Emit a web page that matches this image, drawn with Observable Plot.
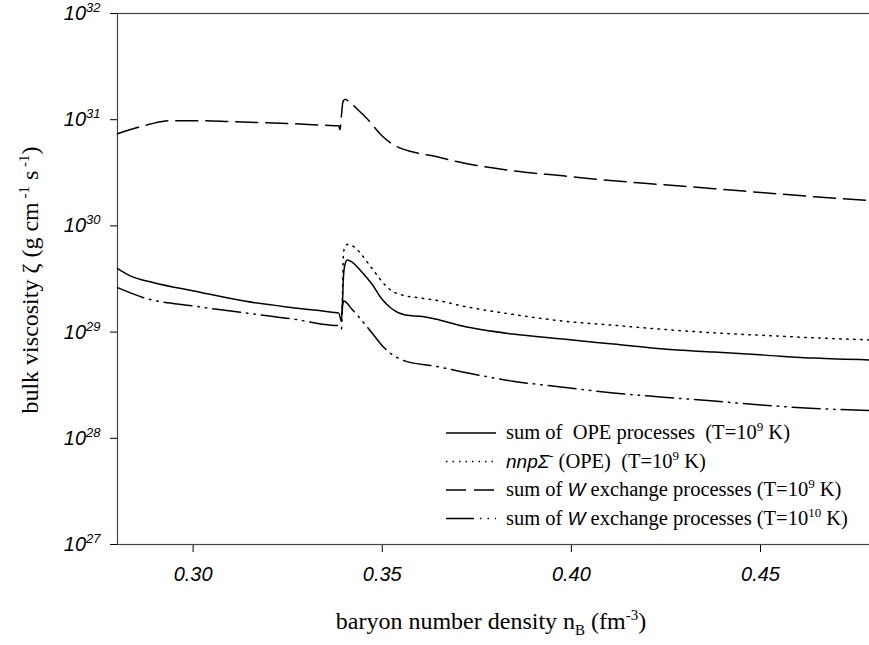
<!DOCTYPE html>
<html><head><meta charset="utf-8">
<script src="https://cdn.jsdelivr.net/npm/d3@7"></script>
<script src="https://cdn.jsdelivr.net/npm/@observablehq/plot@0.6"></script>
<style>
body{margin:0;background:#fff;}
#chart{position:relative;width:869px;height:645px;overflow:hidden;background:#fff;}
</style></head><body><div id="chart"></div>
<script>
// ---- data ----
const xTicks = [0.30, 0.35, 0.40, 0.45];
const yTicks = [1e27, 1e28, 1e29, 1e30, 1e31, 1e32];

// sum of OPE processes (T=1e9 K) - solid
const xOPE = [0.2800,0.2835,0.2896,0.3002,0.3135,0.3268,0.3380,0.3385,0.3392,0.3395,0.3397,0.3401,0.3408,0.3420,0.3446,0.3473,0.3499,0.3526,0.3561,0.3606,0.3640,0.3712,0.3845,0.3978,0.4111,0.4244,0.4377,0.4510,0.4643,0.4800];
const yOPE = [3.96e29,3.37e29,2.92e29,2.44e29,1.96e29,1.69e29,1.52e29,1.51e29,1.27e29,1.96e29,3.16e29,4.29e29,4.78e29,4.57e29,3.68e29,2.82e29,2.05e29,1.65e29,1.45e29,1.40e29,1.33e29,1.14e29,9.58e28,8.59e28,7.71e28,6.92e28,6.48e28,6.07e28,5.69e28,5.45e28];

// nnpΣ- (OPE) (T=1e9 K) - dotted
const xNNP = [0.3392,0.3395,0.3397,0.3401,0.3409,0.3428,0.3446,0.3462,0.3478,0.3494,0.3510,0.3531,0.3553,0.3593,0.3654,0.3712,0.3845,0.3978,0.4111,0.4244,0.4377,0.4510,0.4643,0.4800];
const yNNP = [1.27e29,2.44e29,5.21e29,6.34e29,6.72e29,6.24e29,5.32e29,4.48e29,3.76e29,3.16e29,2.72e29,2.38e29,2.23e29,2.11e29,1.96e29,1.76e29,1.47e29,1.27e29,1.16e29,1.06e29,9.84e28,9.31e28,8.83e28,8.41e28];

// sum of W exchange processes (T=1e9 K) - dashed
const xW9 = [0.2800,0.2861,0.2941,0.3021,0.3101,0.3180,0.3260,0.3348,0.3385,0.3388,0.3392,0.3396,0.3402,0.3412,0.3433,0.3460,0.3499,0.3534,0.3579,0.3632,0.3712,0.3845,0.3978,0.4111,0.4244,0.4377,0.4510,0.4643,0.4800];
const yW9 = [7.38e30,8.59e30,9.80e30,9.80e30,9.58e30,9.37e30,9.17e30,8.87e30,8.77e30,8.05e30,1.09e31,1.48e31,1.56e31,1.48e31,1.27e31,1.02e31,7.06e30,5.69e30,4.99e30,4.57e30,3.93e30,3.30e30,2.96e30,2.66e30,2.44e30,2.24e30,2.05e30,1.88e30,1.72e30];

// sum of W exchange processes (T=1e10 K) - dash-dot-dot
const xW10 = [0.2800,0.2869,0.3002,0.3135,0.3268,0.3366,0.3385,0.3392,0.3395,0.3398,0.3420,0.3438,0.3473,0.3505,0.3521,0.3561,0.3640,0.3712,0.3845,0.3978,0.4111,0.4244,0.4377,0.4510,0.4643,0.4800];
const yW10 = [2.62e29,2.11e29,1.76e29,1.52e29,1.32e29,1.16e29,1.15e29,1.07e29,1.76e29,1.96e29,1.64e29,1.39e29,9.80e28,7.11e28,6.34e28,5.33e28,4.77e28,4.22e28,3.45e28,3.03e28,2.67e28,2.44e28,2.24e28,2.05e28,1.91e28,1.82e28];

const seriesNames = ["OPE", "NNP", "W9", "W10"];
const seriesX = {OPE: xOPE, NNP: xNNP, W9: xW9, W10: xW10};
const seriesY = {OPE: yOPE, NNP: yNNP, W9: yW9, W10: yW10};
const dashes = {OPE: null, NNP: "1.5,5.5", W9: "22,8", W10: "28,6,1.5,6,1.5,6"};

const table = seriesNames.map(name => seriesX[name].map((x, i) => ({series: name, x, y: seriesY[name][i]})));

const plot = Plot.plot({
  width: 869, height: 645,
  marginLeft: 117, marginRight: -4.5, marginTop: 13, marginBottom: 101,
  style: {fontFamily: "'Liberation Sans', Arial, sans-serif", fontSize: "20px", fontStyle: "italic", color: "#000", background: "#fff", overflow: "visible"},
  x: {domain: [0.28, 0.48], ticks: xTicks, tickFormat: d3.format(".2f"), tickSize: 8, tickPadding: 14, label: null},
  y: {type: "log", domain: [1e27, 1e32], ticks: yTicks, tickFormat: d => "10^" + Math.round(Math.log10(d)), tickSize: 7, tickPadding: 10, label: null},
  marks: [
    Plot.frame({stroke: "#444", strokeWidth: 1.2}),
    ...table.map((rows, k) => Plot.line(rows, {x: "x", y: "y", stroke: "#000", strokeWidth: 1.5,
      strokeDasharray: dashes[seriesNames[k]], curve: "monotone-x"}))
  ]
});
document.getElementById("chart").appendChild(plot);

const svg = d3.select(plot);
// superscripts on y tick labels
svg.selectAll("text").each(function() {
  const m = /^10\^(\d+)$/.exec(this.textContent);
  if (m) {
    const el = d3.select(this);
    el.text("");
    el.append("tspan").text("10");
    el.append("tspan").attr("font-size", "13px").style("font-size", "13px").attr("dy", "-8").text(m[1]);
  }
});

const serif = "'Liberation Serif', 'Times New Roman', serif";
const sans = "'Liberation Sans', Arial, sans-serif";

// x axis title
const xt = svg.append("text").attr("x", 491).attr("y", 629).attr("text-anchor", "middle")
  .style("font-family", serif).style("font-style", "normal").style("font-size", "24px").attr("fill", "#000");
xt.append("tspan").text("baryon number density n");
xt.append("tspan").style("font-size", "15px").attr("dy", "6").text("B");
xt.append("tspan").attr("dy", "-6").text("\u00a0(fm");
xt.append("tspan").style("font-size", "15px").attr("dy", "-9").text("-3");
xt.append("tspan").attr("dy", "9").text(")");

// y axis title
const yt = svg.append("text").attr("transform", "translate(38,280) rotate(-90)").attr("text-anchor", "middle")
  .style("font-family", serif).style("font-style", "normal").style("font-size", "24px").attr("fill", "#000");
yt.append("tspan").text("bulk viscosity \u03b6 (g cm");
yt.append("tspan").style("font-size", "15px").attr("dy", "-9").text("\u00a0-1");
yt.append("tspan").attr("dy", "9").text("\u00a0s");
yt.append("tspan").style("font-size", "15px").attr("dy", "-9").text("\u00a0-1");
yt.append("tspan").attr("dy", "9").text(")");

// legend (inside plot area)
const legend = [
  {dash: null, parts: [["s","sum of  OPE processes  (T=10"],["sup","9"],["s"," K)"]]},
  {dash: "1.5,5", parts: [["i","nnp\u03a3"],["sup","-"],["s"," (OPE)  (T=10"],["sup","9"],["s"," K)"]]},
  {dash: "20,8", parts: [["s","sum of "],["i","W"],["s"," exchange processes (T=10"],["sup","9"],["s"," K)"]]},
  {dash: "28,6,1.5,6,1.5,6", parts: [["s","sum of "],["i","W"],["s"," exchange processes (T=10"],["sup","10"],["s"," K)"]]}
];
const lg = svg.append("g").attr("transform", "translate(446,433)");
legend.forEach((row, i) => {
  const y = i * 28.5;
  lg.append("line").attr("x1", 0).attr("x2", 50).attr("y1", y).attr("y2", y)
    .attr("stroke", "#000").attr("stroke-width", 1.5).attr("stroke-dasharray", row.dash);
  const t = lg.append("text").attr("x", 60).attr("y", y + 6).attr("fill", "#000").attr("text-anchor", "start")
    .style("text-anchor", "start").style("font-size", "20.5px").style("white-space", "pre").attr("xml:space", "preserve");
  let sup = false;
  row.parts.forEach(([kind, txt]) => {
    const ts = t.append("tspan").text(txt);
    if (kind === "i") ts.style("font-family", sans).style("font-style", "italic").style("font-size", "19px");
    else ts.style("font-family", serif).style("font-style", "normal");
    if (kind === "sup") { ts.style("font-size", "13px").attr("dy", "-8"); sup = true; }
    else if (sup) { ts.attr("dy", "8"); sup = false; }
  });
});
</script></body></html>
